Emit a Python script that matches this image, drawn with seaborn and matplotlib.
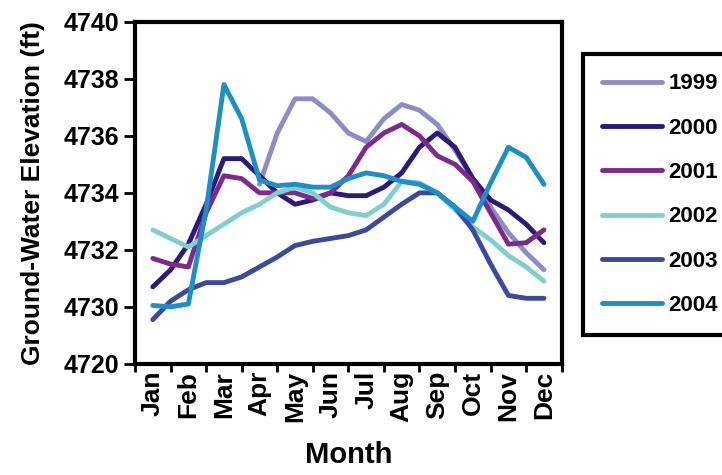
import numpy as np
import pandas as pd
import matplotlib
matplotlib.use("Agg")
import matplotlib.pyplot as plt
import seaborn as sns

months = ['Jan', 'Feb', 'Mar', 'Apr', 'May', 'Jun', 'Jul', 'Aug', 'Sep', 'Oct', 'Nov', 'Dec']
# readings taken twice a month (Jan, mid-Jan, Feb, ... Dec)
month_pos = [i / 2 for i in range(23)]

y1999 = [np.nan, np.nan, np.nan, np.nan, np.nan, np.nan,
         4734.3, 4736.1, 4737.3, 4737.3, 4736.8, 4736.1, 4735.8, 4736.6,
         4737.1, 4736.9, 4736.4, 4735.5, 4734.5, 4733.5, 4732.6, 4731.9, 4731.3]
y2000 = [4730.7, 4731.3, 4732.2, 4733.6, 4735.2, 4735.2, 4734.6, 4734.0,
         4733.6, 4733.75, 4734.0, 4733.9, 4733.9, 4734.2, 4734.7, 4735.6,
         4736.1, 4735.6, 4734.5, 4733.75, 4733.4, 4732.9, 4732.25]
y2001 = [4731.7, 4731.5, 4731.4, 4733.3, 4734.6, 4734.5, 4734.0, 4734.0,
         4734.0, 4733.8, 4734.0, 4734.6, 4735.6, 4736.1, 4736.4, 4736.0,
         4735.3, 4735.0, 4734.4, 4733.3, 4732.2, 4732.25, 4732.7]
y2002 = [4732.7, 4732.4, 4732.1, 4732.5, 4732.9, 4733.3, 4733.6, 4734.0,
         4734.2, 4734.0, 4733.5, 4733.3, 4733.2, 4733.6, 4734.4, 4734.35,
         4734.0, 4733.4, 4732.8, 4732.35, 4731.8, 4731.4, 4730.9]
y2003 = [4729.55, 4730.2, 4730.6, 4730.85, 4730.85, 4731.05, 4731.4, 4731.75,
         4732.15, 4732.3, 4732.4, 4732.5, 4732.7, 4733.15, 4733.6, 4734.0,
         4734.0, 4733.5, 4732.7, 4731.5, 4730.4, 4730.3, 4730.3]
y2004 = [4730.05, 4730.0, 4730.1, 4733.4, 4737.8, 4736.6, 4734.45, 4734.25,
         4734.3, 4734.2, 4734.2, 4734.5, 4734.7, 4734.6, 4734.4, 4734.3,
         4734.0, 4733.5, 4733.0, 4734.35, 4735.6, 4735.25, 4734.3]

years = ['1999', '2000', '2001', '2002', '2003', '2004']
colors = ['#8E8CC8', '#2B1A7C', '#7E2A8A', '#80CFCC', '#3C4A9E', '#1D8FC8']

ytick_vals = [4728, 4730, 4732, 4734, 4736, 4738, 4740]
ytick_labels = ['4720', '4730', '4732', '4734', '4736', '4738', '4740']

df = pd.DataFrame({'pos': month_pos * 6,
                   'elev': y1999 + y2000 + y2001 + y2002 + y2003 + y2004,
                   'year': [y for y in years for _ in month_pos]})

sns.set_style('white')
plt.rcParams['font.family'] = ['Liberation Sans', 'DejaVu Sans']
plt.rcParams['font.weight'] = 'bold'
for k in ['text.color', 'axes.labelcolor', 'xtick.color', 'ytick.color']:
    plt.rcParams[k] = 'black'

fig = plt.figure(figsize=(7.22, 4.75), dpi=100)
ax = fig.add_axes([0.187, 0.234, 0.591, 0.72])

sns.lineplot(data=df, x='pos', y='elev', hue='year', palette=colors,
             linewidth=3.5, ax=ax, legend=True,
             solid_joinstyle='round', solid_capstyle='round')

ax.set_xlim(-0.5, 11.5)
ax.set_ylim(4728, 4740)
ax.set_xticks(range(12))
ax.set_xticklabels(months, rotation=90, fontsize=19, fontweight='bold')
ax.set_xticks(np.arange(-0.5, 12, 1), minor=True)
ax.tick_params(axis='x', which='major', length=0, pad=5)
ax.tick_params(axis='x', which='minor', length=6, width=2, direction='out', bottom=True)
ax.set_yticks(ytick_vals)
ax.set_yticklabels(ytick_labels, fontsize=18, fontweight='bold')
ax.tick_params(axis='y', length=8, width=2, direction='out', left=True, pad=3)

for sp in ax.spines.values():
    sp.set_linewidth(3)
    sp.set_color('black')

ax.set_xlabel('Month', fontsize=21, fontweight='bold', labelpad=14)
ax.set_ylabel('Ground-Water Elevation (ft)', fontsize=19, fontweight='bold', labelpad=14)

leg = ax.legend(loc='upper left', bbox_to_anchor=(1.049, 0.906), borderaxespad=0,
                fontsize=16, frameon=True, fancybox=False, edgecolor='black',
                framealpha=1, handlelength=2.7, handletextpad=0.3,
                labelspacing=1.05, borderpad=0.87)
leg.get_frame().set_linewidth(3)
for t in leg.get_texts():
    t.set_fontweight('bold')
for h in leg.get_lines():
    h.set_linewidth(3.5)

fig.savefig('out.png', dpi=100)
